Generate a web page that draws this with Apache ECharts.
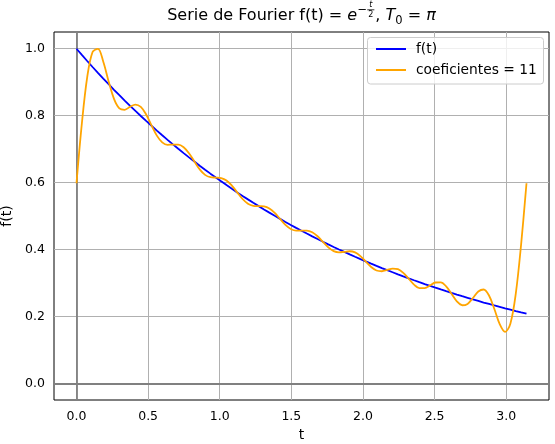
<!DOCTYPE html>
<html>
<head>
<meta charset="utf-8">
<script src="https://cdn.jsdelivr.net/npm/echarts@6/dist/echarts.min.js"></script>
<style>html,body{margin:0;padding:0;background:#fff}#c{width:555px;height:444px}</style>
</head>
<body>
<div id="c"></div>
<script>
// ---- data ----
const tValues = [0.0000,0.0374,0.0748,0.1122,0.1496,0.1870,0.2244,0.2618,0.2992,0.3366,
0.3740,0.4114,0.4488,0.4862,0.5236,0.5610,0.5984,0.6358,0.6732,0.7106,
0.7480,0.7854,0.8228,0.8602,0.8976,0.9350,0.9724,1.0098,1.0472,1.0846,
1.1220,1.1594,1.1968,1.2342,1.2716,1.3090,1.3464,1.3838,1.4212,1.4586,
1.4960,1.5334,1.5708,1.6082,1.6456,1.6830,1.7204,1.7578,1.7952,1.8326,
1.8700,1.9074,1.9448,1.9822,2.0196,2.0570,2.0944,2.1318,2.1692,2.2066,
2.2440,2.2814,2.3188,2.3562,2.3936,2.4310,2.4684,2.5058,2.5432,2.5806,
2.6180,2.6554,2.6928,2.7302,2.7676,2.8050,2.8424,2.8798,2.9172,2.9546,
2.9920,3.0294,3.0668,3.1042,3.1416];

const fValues = [1.0000,0.9815,0.9633,0.9454,0.9279,0.9107,0.8939,0.8773,0.8611,0.8451,
0.8294,0.8141,0.7990,0.7842,0.7697,0.7554,0.7414,0.7277,0.7142,0.7010,
0.6880,0.6752,0.6627,0.6504,0.6384,0.6266,0.6150,0.6036,0.5924,0.5814,
0.5706,0.5601,0.5497,0.5395,0.5295,0.5197,0.5101,0.5006,0.4914,0.4822,
0.4733,0.4645,0.4559,0.4475,0.4392,0.4311,0.4231,0.4152,0.4075,0.4000,
0.3926,0.3853,0.3782,0.3712,0.3643,0.3575,0.3509,0.3444,0.3380,0.3318,
0.3256,0.3196,0.3137,0.3079,0.3022,0.2966,0.2911,0.2857,0.2804,0.2752,
0.2701,0.2651,0.2602,0.2554,0.2506,0.2460,0.2414,0.2370,0.2326,0.2283,
0.2240,0.2199,0.2158,0.2118,0.2079];

const fourierValues = [0.5979,0.7764,0.9148,0.9901,0.9998,0.9611,0.9022,0.8503,0.8217,0.8175,
0.8265,0.8332,0.8262,0.8036,0.7711,0.7403,0.7201,0.7128,0.7135,0.7135,
0.7056,0.6875,0.6631,0.6395,0.6230,0.6159,0.6148,0.6135,0.6063,0.5910,
0.5707,0.5508,0.5368,0.5306,0.5296,0.5286,0.5224,0.5092,0.4912,0.4736,
0.4613,0.4562,0.4562,0.4562,0.4512,0.4394,0.4227,0.4063,0.3952,0.3915,
0.3930,0.3947,0.3911,0.3800,0.3637,0.3475,0.3371,0.3349,0.3388,0.3429,
0.3410,0.3301,0.3126,0.2950,0.2845,0.2845,0.2926,0.3012,0.3017,0.2896,
0.2676,0.2449,0.2332,0.2373,0.2550,0.2744,0.2803,0.2622,0.2221,0.1769,
0.1535,0.1789,0.2680,0.4161,0.5979];

const xTicks = [0, 0.5, 1.0, 1.5, 2.0, 2.5, 3.0];
const yTicks = [0, 0.2, 0.4, 0.6, 0.8, 1.0];
const xRange = [-0.15708, 3.29867];
const yRange = [-0.05, 1.05];
const seriesNames = ['f(t)', 'coeficientes = 11'];
const seriesColors = ['#0000ff', '#ffa500'];
const titlePrefix = 'Serie de Fourier f(t) = ';
const axisNames = ['t', 'f(t)'];

// ---- rendering ----
const FONT = '"DejaVu Sans", sans-serif';
const chart = echarts.init(document.getElementById('c'), null, {renderer: 'canvas', width: 555, height: 444});
const mctx = document.createElement('canvas').getContext('2d');
const F = (sz, it) => (it ? 'italic ' : '') + sz + 'px "DejaVu Sans"';
const mw = (s, f) => { mctx.font = f; return mctx.measureText(s).width; };

function buildTitle() {
  const S = 16, SUP = 11.5, FR = 8;
  const base = 21;
  const parts = [];
  let x = 0;
  const add = (s, sz, it, dy) => {
    const f = F(sz, it);
    parts.push({s: s, f: f, x: x, yb: base + dy, sz: sz});
    x += mw(s, f);
  };
  add(titlePrefix, S, false, 0);
  add('e', S, true, 0);
  x += 0.5;
  add('\u2212', SUP, false, -7);
  const fT = F(FR, true), f2 = F(FR, false);
  const fw = Math.max(mw('t', fT), mw('2', f2)) + 2;
  const fx = x;
  parts.push({s: 't', f: fT, x: fx + (fw - mw('t', fT)) / 2, yb: base - 13, sz: FR});
  parts.push({s: '2', f: f2, x: fx + (fw - mw('2', f2)) / 2, yb: base - 3.5, sz: FR});
  const barY = base - 11.2;
  x += fw + 1;
  add(', ', S, false, 0);
  add('T', S, true, 0);
  add('0', SUP, false, 3.5);
  add(' = ', S, false, 0);
  add('\u03c0', S, true, 0);
  const off = 301.5 - x / 2;
  const els = parts.map(p => ({
    type: 'text', x: p.x + off, y: p.yb - 0.346 * p.sz, silent: true,
    style: {text: p.s, font: p.f, fill: '#000', textAlign: 'left', textVerticalAlign: 'middle'}
  }));
  els.push({type: 'line', silent: true,
    shape: {x1: fx + off, y1: barY, x2: fx + fw + off, y2: barY},
    style: {stroke: '#000', lineWidth: 0.8}});
  return els;
}

function buildLegend() {
  const box = {x: 367.5, y: 37.5, w: 176, h: 46.5};
  const rows = [49, 70];
  const els = [{
    type: 'rect', silent: true, z: 50,
    shape: {x: box.x, y: box.y, width: box.w, height: box.h, r: 3},
    style: {fill: 'rgba(255,255,255,0.8)', stroke: '#cccccc', lineWidth: 1}
  }];
  seriesNames.forEach((n, i) => {
    els.push({type: 'line', silent: true, z: 51,
      shape: {x1: 376, y1: rows[i], x2: 406, y2: rows[i]},
      style: {stroke: seriesColors[i], lineWidth: 2}});
    els.push({type: 'text', silent: true, z: 51, x: 416, y: rows[i],
      style: {text: n, font: F(13.8, false), fill: '#000', textAlign: 'left', textVerticalAlign: 'middle'}});
  });
  return els;
}

const pair = vals => tValues.map((t, i) => [t, vals[i]]);

const option = {
  animation: false,
  backgroundColor: '#ffffff',
  grid: {left: 54, right: 6, top: 32, bottom: 44, show: true, borderColor: '#000', borderWidth: 1,
         backgroundColor: 'transparent', containLabel: false, outerBoundsMode: 'none'},
  xAxis: {
    type: 'value', min: xRange[0], max: xRange[1],
    axisLine: {show: false},
    axisTick: {show: true, inside: false, length: 4, lineStyle: {color: '#000', width: 1}, customValues: xTicks},
    axisLabel: {customValues: xTicks, formatter: v => v.toFixed(1), color: '#000', fontSize: 12.5, fontFamily: FONT, margin: 10},
    splitLine: {show: false},
    name: axisNames[0], nameLocation: 'middle', nameGap: 27,
    nameTextStyle: {color: '#000', fontSize: 14, fontFamily: FONT}
  },
  yAxis: {
    type: 'value', min: yRange[0], max: yRange[1],
    axisLine: {show: false},
    axisTick: {show: true, inside: false, length: 4, lineStyle: {color: '#000', width: 1}, customValues: yTicks},
    axisLabel: {customValues: yTicks, formatter: v => v.toFixed(1), color: '#000', fontSize: 12.5, fontFamily: FONT, margin: 9},
    splitLine: {show: false},
    name: axisNames[1], nameLocation: 'middle', nameGap: 35, nameRotate: 90,
    nameTextStyle: {color: '#000', fontSize: 14, fontFamily: FONT}
  },
  graphic: buildTitle().concat(buildLegend()),
  series: [
    {
      type: 'line', name: '_grid', data: [], z: 1, silent: true,
      markLine: {
        z: 1, silent: true, symbol: ['none', 'none'], label: {show: false}, animation: false,
        emphasis: {disabled: true},
        lineStyle: {color: '#b0b0b0', width: 1, type: 'solid'},
        data: xTicks.map(v => ({xAxis: v})).concat(yTicks.map(v => ({yAxis: v})))
      }
    },
    {
      type: 'line', name: '_zero', data: [], z: 2, silent: true,
      markLine: {
        z: 2, silent: true, symbol: ['none', 'none'], label: {show: false}, animation: false,
        emphasis: {disabled: true},
        lineStyle: {color: '#808080', width: 1.8, type: 'solid'},
        data: [{xAxis: 0}, {yAxis: 0}]
      }
    },
    {
      type: 'line', name: seriesNames[0], data: pair(fValues), z: 3,
      symbol: 'none', showSymbol: false, smooth: false, color: seriesColors[0],
      lineStyle: {color: seriesColors[0], width: 1.8},
      emphasis: {disabled: true}
    },
    {
      type: 'line', name: seriesNames[1], data: pair(fourierValues), z: 4,
      symbol: 'none', showSymbol: false, smooth: 0.35, color: seriesColors[1],
      lineStyle: {color: seriesColors[1], width: 1.8},
      emphasis: {disabled: true}
    }
  ]
};
chart.setOption(option);
</script>
</body>
</html>
